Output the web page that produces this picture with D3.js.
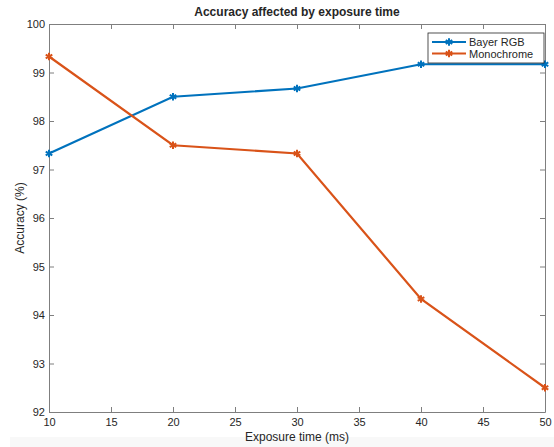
<!DOCTYPE html>
<html>
<head>
<meta charset="utf-8">
<script src="https://cdn.jsdelivr.net/npm/d3@7"></script>
<style>
  body { margin: 0; background: #fff; }
  text { font-family: "Liberation Sans", Arial, sans-serif; fill: #262626; }
</style>
</head>
<body>
<div class="chart"></div>
<script>
// Data
var exposure = [10, 20, 30, 40, 50];
var bayerRGB = [97.33, 98.5, 98.67, 99.17, 99.17];
var monochrome = [99.33, 97.5, 97.33, 94.33, 92.5];
var seriesNames = ["Bayer RGB", "Monochrome"];
var seriesColors = ["#0072BD", "#D95319"];
var xTicks = [10, 15, 20, 25, 30, 35, 40, 45, 50];
var yTicks = [92, 93, 94, 95, 96, 97, 98, 99, 100];

// Setup chart
var svgWidth = 554;
var svgHeight = 447;
var margin = { top: 24, right: 9, bottom: 35, left: 49 };
var width = svgWidth - margin.left - margin.right;
var height = svgHeight - margin.top - margin.bottom;

var svg = d3.select(".chart")
  .append("svg")
  .attr("width", svgWidth)
  .attr("height", svgHeight);

// faint grey strip at the very bottom of the screenshot
svg.append("rect")
  .attr("x", 10).attr("y", 437)
  .attr("width", svgWidth - 10).attr("height", 10)
  .attr("fill", "#f8f8f8");

var chart = svg.append("g")
  .attr("transform", "translate(" + margin.left + "," + margin.top + ")");

// Scales
var xScale = d3.scaleLinear().domain([10, 50]).range([0, width]);
var yScale = d3.scaleLinear().domain([92, 100]).range([height, 0]);

// Axes (MATLAB style: inward ticks, box on)
var axisColor = "#7f7f7f";
function styleAxis(g, hideText) {
  g.select(".domain").attr("stroke", axisColor);
  g.selectAll(".tick line").attr("stroke", axisColor);
  g.selectAll(".tick text").attr("font-size", "11px").attr("fill", "#262626");
  if (hideText) g.selectAll(".tick text").remove();
}

chart.append("g")
  .attr("transform", "translate(0," + height + ")")
  .call(d3.axisBottom(xScale).tickValues(xTicks).tickSizeInner(-5).tickSizeOuter(0).tickPadding(6))
  .call(styleAxis, false);

chart.append("g")
  .call(d3.axisTop(xScale).tickValues(xTicks).tickSizeInner(-5).tickSizeOuter(0))
  .call(styleAxis, true);

chart.append("g")
  .call(d3.axisLeft(yScale).tickValues(yTicks).tickSizeInner(-5).tickSizeOuter(0).tickPadding(4))
  .call(styleAxis, false);

chart.append("g")
  .attr("transform", "translate(" + width + ",0)")
  .call(d3.axisRight(yScale).tickValues(yTicks).tickSizeInner(-5).tickSizeOuter(0))
  .call(styleAxis, true);

// Lines and markers
var line = d3.line()
  .x(function(d) { return xScale(d[0]); })
  .y(function(d) { return yScale(d[1]); });
var star = d3.symbol().type(d3.symbolAsterisk).size(40);

[bayerRGB, monochrome].forEach(function(values, i) {
  var pts = exposure.map(function(x, j) { return [x, values[j]]; });
  chart.append("path")
    .datum(pts)
    .attr("d", line)
    .attr("fill", "none")
    .attr("stroke", seriesColors[i])
    .attr("stroke-width", 2.2);
  chart.selectAll(".m" + i)
    .data(pts)
    .enter().append("path")
    .attr("class", "m" + i)
    .attr("d", star)
    .attr("transform", function(d) { return "translate(" + xScale(d[0]) + "," + yScale(d[1]) + ")"; })
    .attr("fill", "none")
    .attr("stroke", seriesColors[i])
    .attr("stroke-width", 2);
});

// Title and axis labels
svg.append("text")
  .attr("x", margin.left + width / 2)
  .attr("y", 16)
  .attr("text-anchor", "middle")
  .attr("font-size", "12px")
  .attr("font-weight", "bold")
  .attr("fill", "#000")
  .text("Accuracy affected by exposure time");

svg.append("text")
  .attr("x", margin.left + width / 2)
  .attr("y", 441)
  .attr("text-anchor", "middle")
  .attr("font-size", "12px")
  .text("Exposure time (ms)");

svg.append("text")
  .attr("transform", "translate(24," + (margin.top + height / 2) + ") rotate(-90)")
  .attr("text-anchor", "middle")
  .attr("font-size", "12px")
  .text("Accuracy (%)");

// Legend
var legend = svg.append("g").attr("transform", "translate(428,33)");
legend.append("rect")
  .attr("width", 116)
  .attr("height", 30)
  .attr("fill", "#fff")
  .attr("stroke", "#262626")
  .attr("stroke-width", 0.8);
seriesNames.forEach(function(name, i) {
  var y = 9 + i * 11.5;
  legend.append("line")
    .attr("x1", 4).attr("x2", 38)
    .attr("y1", y).attr("y2", y)
    .attr("stroke", seriesColors[i])
    .attr("stroke-width", 2.2);
  legend.append("path")
    .attr("d", star)
    .attr("transform", "translate(21," + y + ")")
    .attr("fill", "none")
    .attr("stroke", seriesColors[i])
    .attr("stroke-width", 2);
  legend.append("text")
    .attr("x", 41)
    .attr("y", y + 4)
    .attr("font-size", "11px")
    .attr("fill", "#000")
    .text(name);
});
</script>
</body>
</html>
